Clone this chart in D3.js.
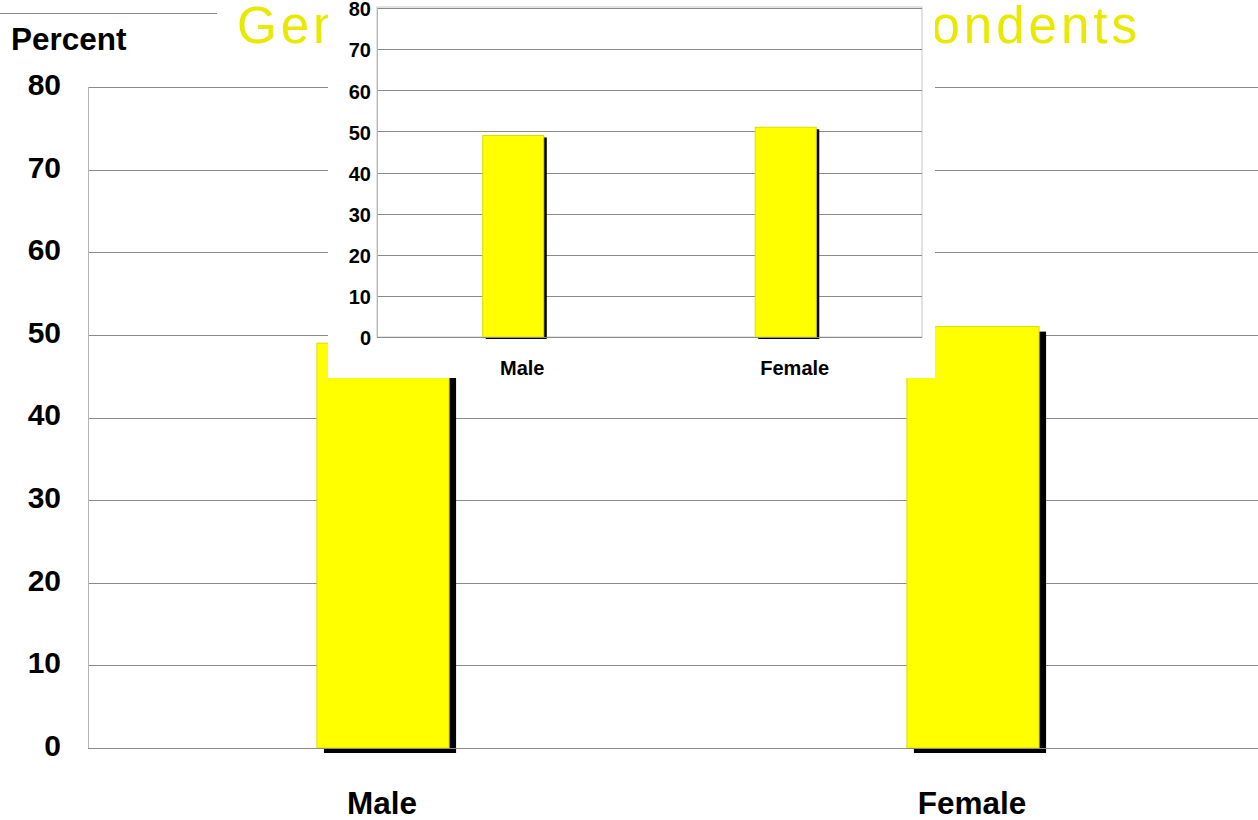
<!DOCTYPE html>
<html>
<head>
<meta charset="utf-8">
<script src="https://cdn.jsdelivr.net/npm/d3@7"></script>
<style>
  html, body { margin: 0; padding: 0; background: #fff; }
  svg { display: block; }
  text { font-family: "Liberation Sans", Arial, sans-serif; }
</style>
</head>
<body>
<svg id="chart" width="1258" height="820"></svg>
<script>
// Respondent gender breakdown (percent)
const categories = ["Male", "Female"];
const percentValues = [49, 51];
const yTicks = [0, 10, 20, 30, 40, 50, 60, 70, 80];
const yDomain = [0, 80];
const titleText = "Gender of Respondents";
const yAxisTitle = "Percent";

const svg = d3.select("#chart");

// Draws one bar chart (gridlines, shadowed bars, tick and category labels)
function drawBars(g, cfg) {
  const y = d3.scaleLinear().domain(yDomain).range([cfg.bottom, cfg.top]);
  const x = d3.scaleBand().domain(categories).range([cfg.left, cfg.right]).padding(0);
  const barW = x.bandwidth() * 0.224;

  if (cfg.frame) {
    g.append("rect")
      .attr("x", cfg.left).attr("y", cfg.top - 1)
      .attr("width", cfg.frameRight - cfg.left).attr("height", cfg.bottom - cfg.top + 1)
      .attr("fill", "#fff").attr("stroke", "#c8c8c8").attr("stroke-width", 1);
  }

  // horizontal gridlines (except the baseline, drawn on top later)
  g.append("g").selectAll("line")
    .data(yTicks.filter(t => t !== 0))
    .join("line")
    .attr("x1", cfg.left).attr("x2", cfg.gridRight)
    .attr("y1", d => Math.round(y(d)) + 0.5).attr("y2", d => Math.round(y(d)) + 0.5)
    .attr("stroke", "#8a8a8a").attr("stroke-width", 1);

  // left axis line
  g.append("line")
    .attr("x1", cfg.left + 0.5).attr("x2", cfg.left + 0.5)
    .attr("y1", y(yDomain[1])).attr("y2", y(0))
    .attr("stroke", "#b4b4b4");

  const bars = g.append("g");
  // drop shadows
  bars.selectAll("rect.shadow")
    .data(percentValues)
    .join("rect")
    .attr("class", "shadow")
    .attr("x", (d, i) => x(categories[i]) + (x.bandwidth() - barW) / 2 + cfg.shadow[0])
    .attr("y", d => y(d) + cfg.shadow[1])
    .attr("width", barW)
    .attr("height", d => y(0) - y(d))
    .attr("fill", "#000");

  // baseline
  g.append("line")
    .attr("x1", cfg.left).attr("x2", cfg.gridRight)
    .attr("y1", Math.round(y(0)) + 0.5).attr("y2", Math.round(y(0)) + 0.5)
    .attr("stroke", "#8a8a8a");

  // yellow bars
  bars.selectAll("rect.bar")
    .data(percentValues)
    .join("rect")
    .attr("class", "bar")
    .attr("x", (d, i) => x(categories[i]) + (x.bandwidth() - barW) / 2)
    .attr("y", d => y(d))
    .attr("width", barW)
    .attr("height", d => y(0) - y(d))
    .attr("fill", "#ffff00")
    .attr("stroke", "#dcdc00")
    .attr("stroke-width", 1);

  // y tick labels
  g.append("g").selectAll("text")
    .data(yTicks)
    .join("text")
    .attr("x", cfg.tickX)
    .attr("y", d => y(d) + cfg.tickDy)
    .attr("text-anchor", "end")
    .attr("dominant-baseline", "middle")
    .attr("font-weight", "bold")
    .attr("font-size", cfg.tickSize)
    .attr("fill", "#000")
    .text(d => d);

  // category labels
  g.append("g").selectAll("text")
    .data(categories)
    .join("text")
    .attr("x", d => x(d) + x.bandwidth() / 2 + cfg.labelDx)
    .attr("y", cfg.labelY)
    .attr("text-anchor", "middle")
    .attr("font-weight", "bold")
    .attr("font-size", cfg.labelSize)
    .attr("fill", "#000")
    .text(d => d);
}

// Main chart
const mainG = svg.append("g");
drawBars(mainG, {
  left: 88, right: 1268, gridRight: 1258, top: 87, bottom: 748,
  shadow: [7, 5], tickX: 61, tickDy: 0, tickSize: 30,
  labelY: 814, labelSize: 31.5, labelDx: -1, frame: false
});

// decorative rule at top left
svg.append("line")
  .attr("x1", 0).attr("x2", 217).attr("y1", 13.5).attr("y2", 13.5)
  .attr("stroke", "#8a8a8a");

// axis title
svg.append("text")
  .attr("x", 11).attr("y", 50)
  .attr("font-weight", "bold").attr("font-size", 31.5)
  .attr("fill", "#000")
  .text(yAxisTitle);

// chart title: spread so it spans from x=240 to x=1137
const title = svg.append("text")
  .attr("x", 237).attr("y", 43)
  .attr("font-family", "'DejaVu Sans', sans-serif")
  .attr("font-weight", 200)
  .attr("font-size", 51)
  .attr("letter-spacing", 4)
  .attr("fill", "#e8e800")
  .text(titleText);
const titleLen = title.node().getComputedTextLength();
const gaps = (titleText.match(/ /g) || []).length;
title.attr("word-spacing", gaps ? Math.max(0, (904 - titleLen) / gaps) : 0);

// Inset chart on a white panel
const insetG = svg.append("g");
insetG.append("rect")
  .attr("x", 328).attr("y", 0).attr("width", 607).attr("height", 378)
  .attr("fill", "#fff");
drawBars(insetG, {
  left: 377, right: 922, gridRight: 922, frameRight: 922, top: 8, bottom: 337,
  shadow: [3, 2], tickX: 371, tickDy: 3, tickSize: 20,
  labelY: 375, labelSize: 20, labelDx: 9, frame: true
});
</script>
</body>
</html>
